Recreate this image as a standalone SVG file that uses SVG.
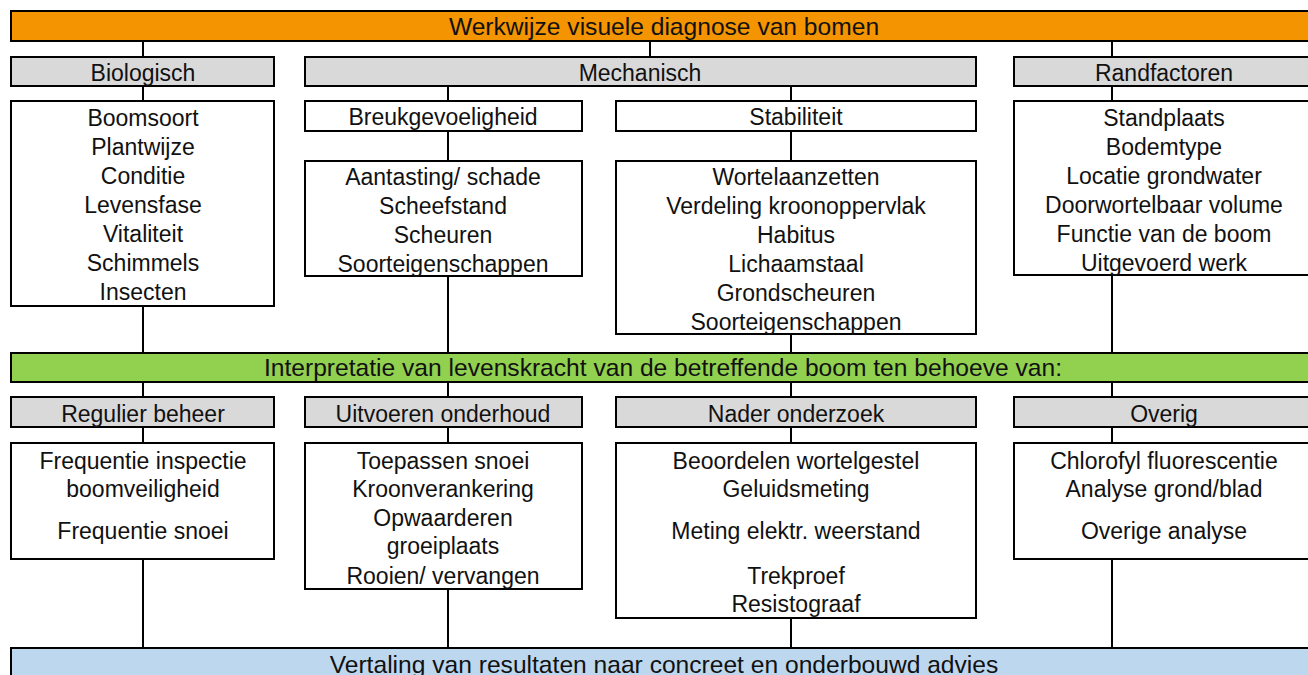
<svg xmlns="http://www.w3.org/2000/svg" width="1308" height="675" viewBox="0 0 1308 675">
<style>
.n rect{stroke:#000;stroke-width:2}
.bar1{fill:#F39400}
.bar2{fill:#92D050}
.bar3{fill:#BDD7EE}
.hdr{fill:#D9D9D9}
.box{fill:#fff}
text{font-family:"Liberation Sans",Arial,sans-serif;font-size:23px;fill:#111;text-anchor:middle}
.big{font-size:24.6px}
.conn line{stroke:#000;stroke-width:2}
</style>
<rect width="1308" height="675" fill="#fff"/>
<g class="conn" id="connectors">
<line x1="143" y1="41" x2="143" y2="57"/>
<line x1="650" y1="41" x2="650" y2="57"/>
<line x1="1112" y1="41" x2="1112" y2="57"/>
<line x1="143" y1="86" x2="143" y2="101"/>
<line x1="448" y1="86" x2="448" y2="101"/>
<line x1="791" y1="86" x2="791" y2="101"/>
<line x1="1112" y1="86" x2="1112" y2="101"/>
<line x1="448" y1="131" x2="448" y2="161"/>
<line x1="791" y1="131" x2="791" y2="161"/>
<line x1="143" y1="306" x2="143" y2="353"/>
<line x1="448" y1="276" x2="448" y2="353"/>
<line x1="791" y1="334" x2="791" y2="353"/>
<line x1="1112" y1="275" x2="1112" y2="353"/>
<line x1="143" y1="382" x2="143" y2="397"/>
<line x1="448" y1="382" x2="448" y2="397"/>
<line x1="791" y1="382" x2="791" y2="397"/>
<line x1="1112" y1="382" x2="1112" y2="397"/>
<line x1="143" y1="427" x2="143" y2="443"/>
<line x1="448" y1="427" x2="448" y2="443"/>
<line x1="791" y1="427" x2="791" y2="443"/>
<line x1="1112" y1="427" x2="1112" y2="443"/>
<line x1="143" y1="559" x2="143" y2="648"/>
<line x1="448" y1="589" x2="448" y2="648"/>
<line x1="791" y1="618" x2="791" y2="648"/>
<line x1="1112" y1="559" x2="1112" y2="648"/>
</g>
<g class="n" id="title">
<rect class="bar1" x="11" y="11" width="1306" height="30"/>
<text class="big" x="664" y="35">Werkwijze visuele diagnose van bomen</text>
</g>
<g class="n" id="biologisch">
<rect class="hdr" x="11" y="57" width="263" height="29"/>
<text x="143" y="81">Biologisch</text>
</g>
<g class="n" id="mechanisch">
<rect class="hdr" x="305" y="57" width="671" height="29"/>
<text x="640" y="81">Mechanisch</text>
</g>
<g class="n" id="randfactoren">
<rect class="hdr" x="1014" y="57" width="300" height="29"/>
<text x="1164" y="81">Randfactoren</text>
</g>
<g class="n" id="bio-items">
<rect class="box" x="11" y="101" width="263" height="205"/>
<text x="143" y="126">Boomsoort</text>
<text x="143" y="155">Plantwijze</text>
<text x="143" y="184">Conditie</text>
<text x="143" y="213">Levensfase</text>
<text x="143" y="242">Vitaliteit</text>
<text x="143" y="271">Schimmels</text>
<text x="143" y="300">Insecten</text>
</g>
<g class="n" id="breukgevoeligheid">
<rect class="box" x="305" y="101" width="277" height="30"/>
<text x="443" y="125">Breukgevoeligheid</text>
</g>
<g class="n" id="stabiliteit">
<rect class="box" x="616" y="101" width="360" height="30"/>
<text x="796" y="125">Stabiliteit</text>
</g>
<g class="n" id="breuk-items">
<rect class="box" x="305" y="161" width="277" height="115"/>
<text x="443" y="185">Aantasting/ schade</text>
<text x="443" y="214">Scheefstand</text>
<text x="443" y="243">Scheuren</text>
<text x="443" y="272">Soorteigenschappen</text>
</g>
<g class="n" id="stab-items">
<rect class="box" x="616" y="161" width="360" height="173"/>
<text x="796" y="185">Wortelaanzetten</text>
<text x="796" y="214">Verdeling kroonoppervlak</text>
<text x="796" y="243">Habitus</text>
<text x="796" y="272">Lichaamstaal</text>
<text x="796" y="301">Grondscheuren</text>
<text x="796" y="330">Soorteigenschappen</text>
</g>
<g class="n" id="rand-items">
<rect class="box" x="1014" y="101" width="300" height="174"/>
<text x="1164" y="126">Standplaats</text>
<text x="1164" y="155">Bodemtype</text>
<text x="1164" y="184">Locatie grondwater</text>
<text x="1164" y="213">Doorwortelbaar volume</text>
<text x="1164" y="242">Functie van de boom</text>
<text x="1164" y="271">Uitgevoerd werk</text>
</g>
<g class="n" id="interpretatie">
<rect class="bar2" x="11" y="353" width="1306" height="29"/>
<text class="big" x="663" y="376">Interpretatie van levenskracht van de betreffende boom ten behoeve van:</text>
</g>
<g class="n" id="regulier">
<rect class="hdr" x="11" y="397" width="263" height="30"/>
<text x="143" y="422">Regulier beheer</text>
</g>
<g class="n" id="uitvoeren">
<rect class="hdr" x="305" y="397" width="277" height="30"/>
<text x="443" y="422">Uitvoeren onderhoud</text>
</g>
<g class="n" id="nader">
<rect class="hdr" x="616" y="397" width="360" height="30"/>
<text x="796" y="422">Nader onderzoek</text>
</g>
<g class="n" id="overig">
<rect class="hdr" x="1014" y="397" width="300" height="30"/>
<text x="1164" y="422">Overig</text>
</g>
<g class="n" id="regulier-items">
<rect class="box" x="11" y="443" width="263" height="116"/>
<text x="143" y="469">Frequentie inspectie</text>
<text x="143" y="497">boomveiligheid</text>
<text x="143" y="539">Frequentie snoei</text>
</g>
<g class="n" id="uitvoeren-items">
<rect class="box" x="305" y="443" width="277" height="146"/>
<text x="443" y="469">Toepassen snoei</text>
<text x="443" y="497">Kroonverankering</text>
<text x="443" y="526">Opwaarderen</text>
<text x="443" y="554">groeiplaats</text>
<text x="443" y="584">Rooien/ vervangen</text>
</g>
<g class="n" id="nader-items">
<rect class="box" x="616" y="443" width="360" height="175"/>
<text x="796" y="469">Beoordelen wortelgestel</text>
<text x="796" y="497">Geluidsmeting</text>
<text x="796" y="539">Meting elektr. weerstand</text>
<text x="796" y="584">Trekproef</text>
<text x="796" y="612">Resistograaf</text>
</g>
<g class="n" id="overig-items">
<rect class="box" x="1014" y="443" width="300" height="116"/>
<text x="1164" y="469">Chlorofyl fluorescentie</text>
<text x="1164" y="497">Analyse grond/blad</text>
<text x="1164" y="539">Overige analyse</text>
</g>
<g class="n" id="vertaling">
<rect class="bar3" x="11" y="648" width="1306" height="40"/>
<text class="big" x="664" y="673">Vertaling van resultaten naar concreet en onderbouwd advies</text>
</g>
</svg>
